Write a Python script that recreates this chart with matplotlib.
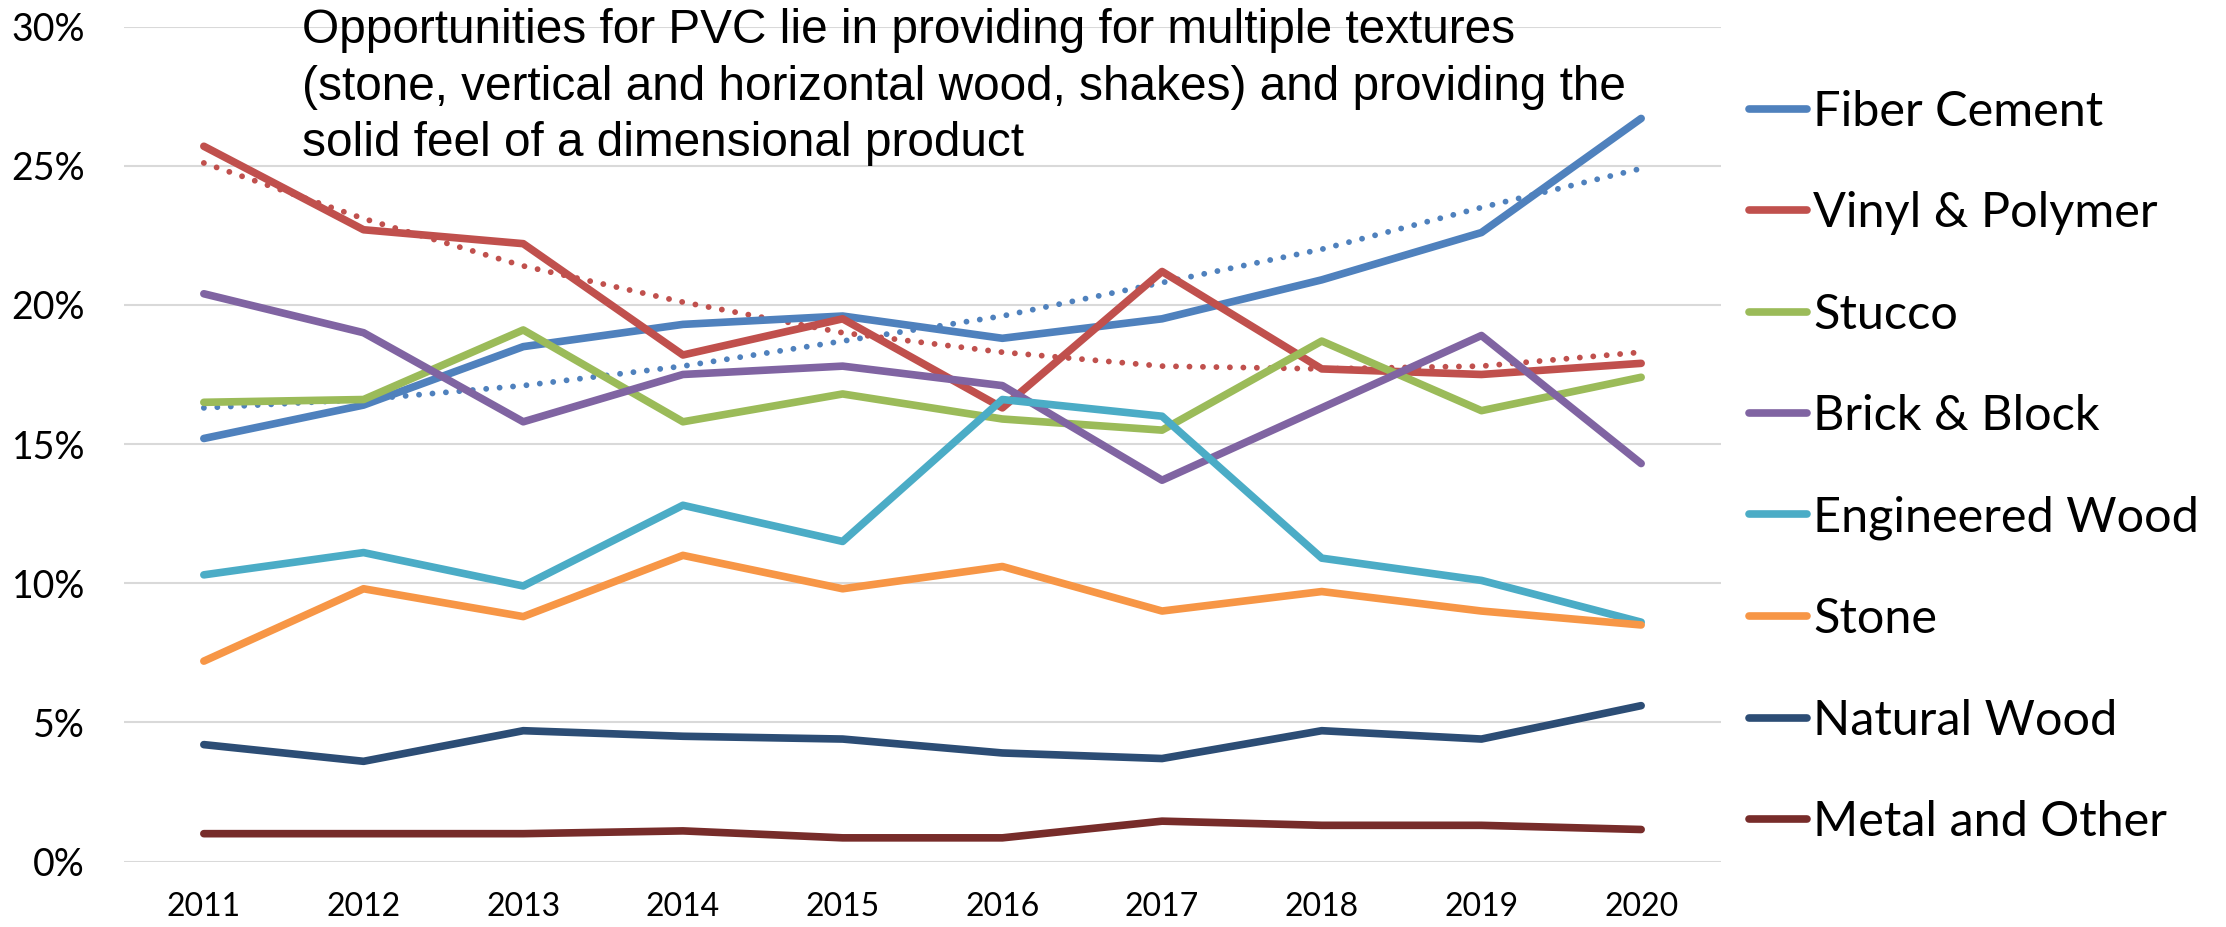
import matplotlib.pyplot as plt
from matplotlib.ticker import FuncFormatter

years = ["2011", "2012", "2013", "2014", "2015", "2016", "2017", "2018", "2019", "2020"]

fiber_cement = [15.2, 16.4, 18.5, 19.3, 19.6, 18.8, 19.5, 20.9, 22.6, 26.7]
vinyl_polymer = [25.7, 22.7, 22.2, 18.2, 19.5, 16.3, 21.2, 17.7, 17.5, 17.9]
stucco = [16.5, 16.6, 19.1, 15.8, 16.8, 15.9, 15.5, 18.7, 16.2, 17.4]
brick_block = [20.4, 19.0, 15.8, 17.5, 17.8, 17.1, 13.7, 16.3, 18.9, 14.3]
engineered_wood = [10.3, 11.1, 9.9, 12.8, 11.5, 16.6, 16.0, 10.9, 10.1, 8.6]
stone = [7.2, 9.8, 8.8, 11.0, 9.8, 10.6, 9.0, 9.7, 9.0, 8.5]
natural_wood = [4.2, 3.6, 4.7, 4.5, 4.4, 3.9, 3.7, 4.7, 4.4, 5.6]
metal_other = [1.0, 1.0, 1.0, 1.1, 0.85, 0.85, 1.45, 1.3, 1.3, 1.15]

# trendlines as drawn in the source chart
fiber_trend = [16.3, 16.6, 17.1, 17.8, 18.7, 19.6, 20.8, 22.0, 23.5, 24.9]
vinyl_trend = [25.1, 23.1, 21.4, 20.1, 19.0, 18.3, 17.8, 17.7, 17.8, 18.3]

labels = ["Fiber Cement", "Vinyl & Polymer", "Stucco", "Brick & Block",
          "Engineered Wood", "Stone", "Natural Wood", "Metal and Other"]
colors = ["#4F81BD", "#C0504D", "#9BBB59", "#8064A2",
          "#4BACC6", "#F79646", "#2C4D75", "#772C2A"]
series = [fiber_cement, vinyl_polymer, stucco, brick_block,
          engineered_wood, stone, natural_wood, metal_other]

fig = plt.figure(figsize=(22.26, 9.27), dpi=100)
ax = fig.add_axes([124 / 2226, 1 - 861.5 / 927, (1721 - 124) / 2226, (861.5 - 26.6) / 927])

x = range(len(years))
handles = []
for vals, lab, col in zip(series, labels, colors):
    h, = ax.plot(x, vals, color=col, lw=5.5, solid_capstyle="round",
                 solid_joinstyle="round", label=lab, zorder=3)
    handles.append(h)

ax.plot(x, fiber_trend, color="#4F81BD", lw=4.2, linestyle=(0, (0.01, 2.3)),
        dash_capstyle="round", zorder=2)
ax.plot(x, vinyl_trend, color="#C0504D", lw=4.2, linestyle=(0, (0.01, 2.3)),
        dash_capstyle="round", zorder=2)

ax.set_xlim(-0.5, 9.5)
ax.set_ylim(0, 30)
ax.set_yticks(range(0, 31, 5))
ax.yaxis.set_major_formatter(FuncFormatter(lambda v, p: f"{int(v)}%"))
ax.set_xticks(list(x))
ax.set_xticklabels(years)
ax.grid(axis="y", color="#D9D9D9", lw=1.5, zorder=0)
ax.set_axisbelow(True)
for s in ax.spines.values():
    s.set_visible(False)
ax.tick_params(axis="y", length=0, pad=28, labelsize=27)
ax.tick_params(axis="x", length=0, pad=22, labelsize=23)
for t in ax.get_xticklabels() + ax.get_yticklabels():
    t.set_fontfamily("Lato")

fig.text(302 / 2226, 1 - 8 / 927,
         "Opportunities for PVC lie in providing for multiple textures\n"
         "(stone, vertical and horizontal wood, shakes) and providing the\n"
         "solid feel of a dimensional product",
         fontsize=34.4, family="Liberation Sans", va="top", ha="left",
         linespacing=1.33)

fig.legend(handles=handles, loc="center left", bbox_to_anchor=(1749 / 2226, 1 - 467 / 927),
           frameon=False, borderpad=0, borderaxespad=0, handlelength=1.2,
           handletextpad=0.12, labelspacing=1.18, prop={"family": "Lato", "size": 35})

fig.savefig("out.png", dpi=100)
